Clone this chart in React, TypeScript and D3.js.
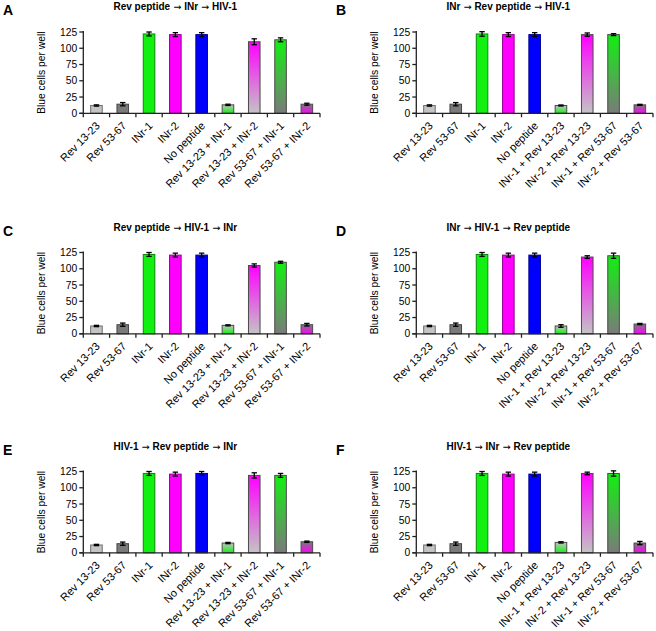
import React from "react";
import * as d3 from "d3";

const baseCategories = ["Rev 13-23", "Rev 53-67", "INr-1", "INr-2", "No peptide"];
const comboLeft = ["Rev 13-23 + INr-1", "Rev 13-23 + INr-2", "Rev 53-67 + INr-1", "Rev 53-67 + INr-2"];
const comboRight = ["INr-1 + Rev 13-23", "INr-2 + Rev 13-23", "INr-1 + Rev 53-67", "INr-2 + Rev 53-67"];
const yTicks = [0, 25, 50, 75, 100, 125];

const panelLetters = ["A", "B", "C", "D", "E", "F"];
const panelTitles = [
  ["Rev peptide", "INr", "HIV-1"],
  ["INr", "Rev peptide", "HIV-1"],
  ["Rev peptide", "HIV-1", "INr"],
  ["INr", "HIV-1", "Rev peptide"],
  ["HIV-1", "Rev peptide", "INr"],
  ["HIV-1", "INr", "Rev peptide"],
];

const valuesA = [12, 14, 122, 121, 121, 13, 110, 113, 14];
const errorsA = [1, 2.5, 3, 3, 3, 1, 4.5, 3, 1.5];
const valuesB = [12, 14, 122, 121, 121, 12, 121, 121, 13];
const errorsB = [1, 2.5, 3.5, 3, 3, 0.8, 2.5, 1.5, 0.8];
const valuesC = [12, 14, 122, 121, 121, 13, 105, 110, 14];
const errorsC = [1, 2.5, 3, 3, 3, 0.8, 2.5, 1.5, 2];
const valuesD = [12, 14, 122, 121, 121, 12, 118, 120, 15];
const errorsD = [1, 2.5, 3, 3, 3, 2, 2, 4, 1];
const valuesE = [12, 14, 122, 121, 122, 15, 119, 119, 17];
const errorsE = [1, 2.5, 3, 3, 3, 1, 4, 3, 1];
const valuesF = [12, 14, 122, 121, 121, 16, 122, 122, 15];
const errorsF = [1, 2.5, 3, 3, 3, 1, 2, 4, 2.5];

const allValues = [valuesA, valuesB, valuesC, valuesD, valuesE, valuesF];
const allErrors = [errorsA, errorsB, errorsC, errorsD, errorsE, errorsF];

const LG = "#c4c4c4";
const DG = "#7a7a7a";
const GR = "#11f011";
const MG = "#ff00ff";
const BL = "#0000ff";
// [top colour, bottom colour] per bar
const barColors: [string, string][] = [
  [LG, LG],
  [DG, DG],
  [GR, GR],
  [MG, MG],
  [BL, BL],
  [LG, GR],
  [MG, LG],
  [GR, DG],
  [DG, MG],
];

const FONT = "'Liberation Sans', Arial, sans-serif";
const rowOffsets = [0, 220.5, 439.5];

function Panel({ idx }: { idx: number }) {
  const col = idx % 2;
  const row = Math.floor(idx / 2);
  const ox = col * 333;
  const oy = rowOffsets[row];
  const categories = [...baseCategories, ...(col === 0 ? comboLeft : comboRight)];
  const values = allValues[idx];
  const errors = allErrors[idx];

  const x0 = 83.3;
  const x1 = 320;
  const yTop = 32;
  const yBot = 113.3;

  const x = d3.scaleBand<string>().domain(categories).range([x0, x1]).paddingInner(0.56).paddingOuter(0.28);
  const y = d3.scaleLinear().domain([0, 125]).range([yBot, yTop]);
  const step = (x1 - x0) / categories.length;
  const title = panelTitles[idx];

  return (
    <g transform={`translate(${ox},${oy})`}>
      <defs>
        {barColors.map((c, i) => (
          <linearGradient key={i} id={`g${idx}_${i}`} x1="0" y1="0" x2="0" y2="1">
            <stop offset="0" stopColor={c[0]} />
            <stop offset="1" stopColor={c[1]} />
          </linearGradient>
        ))}
      </defs>
      <text x={3} y={15} fontFamily={FONT} fontWeight="bold" fontSize={14}>
        {panelLetters[idx]}
      </text>
      <text x={x0 + 92} y={10} textAnchor="middle" fontFamily={FONT} fontWeight="bold" fontSize={10}>
        {title[0]}
        <tspan fontFamily="'DejaVu Sans'" fontWeight="normal" fontSize={9.5}> {"\u2192"} </tspan>
        {title[1]}
        <tspan fontFamily="'DejaVu Sans'" fontWeight="normal" fontSize={9.5}> {"\u2192"} </tspan>
        {title[2]}
      </text>
      <text
        transform={`translate(${x0 - 41.5},${(yTop + yBot) / 2}) rotate(-90)`}
        textAnchor="middle"
        dy="0.35em"
        fontFamily={FONT}
        fontSize={10.3}
      >
        Blue cells per well
      </text>
      {/* bars */}
      {categories.map((c, i) => {
        const v = values[i];
        const solid = barColors[i][0] === barColors[i][1];
        const fill = solid ? barColors[i][0] : `url(#g${idx}_${i})`;
        const stroke = solid ? d3.color(barColors[i][0])!.darker(1.6).formatHex() : "#4a4a4a";
        return (
          <rect
            key={c}
            x={x(c)!}
            y={y(v)}
            width={x.bandwidth()}
            height={yBot - y(v)}
            fill={fill}
            stroke={stroke}
            strokeWidth={1}
          />
        );
      })}
      {/* error bars */}
      {categories.map((c, i) => {
        const cx = x(c)! + x.bandwidth() / 2;
        const v = values[i];
        const e = errors[i];
        return (
          <g key={c} stroke="#000" strokeWidth={1.3}>
            <line x1={cx} x2={cx} y1={y(v - e)} y2={y(v + e)} />
            <line x1={cx - 2.7} x2={cx + 2.7} y1={y(v - e)} y2={y(v - e)} />
            <line x1={cx - 2.7} x2={cx + 2.7} y1={y(v + e)} y2={y(v + e)} />
          </g>
        );
      })}
      {/* y axis */}
      <line x1={x0} x2={x0} y1={yTop - 1} y2={yBot} stroke="#222" strokeWidth={1.3} />
      {yTicks.map((t) => (
        <g key={t}>
          <line x1={x0 - 4} x2={x0} y1={y(t)} y2={y(t)} stroke="#222" strokeWidth={1.3} />
          <text x={x0 - 6} y={y(t)} dy="0.35em" textAnchor="end" fontFamily={FONT} fontSize={10.3}>
            {t}
          </text>
        </g>
      ))}
      {/* x axis */}
      <line x1={x0 - 4} x2={x1} y1={yBot} y2={yBot} stroke="#222" strokeWidth={1.3} />
      {d3.range(categories.length + 1).map((k) => (
        <line key={k} x1={x0 + k * step} x2={x0 + k * step} y1={yBot} y2={yBot + 4} stroke="#222" strokeWidth={1.3} />
      ))}
      {categories.map((c) => {
        const cx = x(c)! + x.bandwidth() / 2;
        return (
          <text
            key={c}
            transform={`translate(${cx + 1.5},${yBot + 10.5}) rotate(-45)`}
            textAnchor="end"
            dy="0.35em"
            fontFamily={FONT}
            fontSize={11}
          >
            {c}
          </text>
        );
      })}
    </g>
  );
}

export default function App() {
  return (
    <svg width={656} height={631} style={{ position: "absolute", left: 0, top: 0, background: "#fff" }}>
      <rect width={656} height={631} fill="#fff" />
      {panelLetters.map((_, i) => (
        <Panel key={i} idx={i} />
      ))}
    </svg>
  );
}
